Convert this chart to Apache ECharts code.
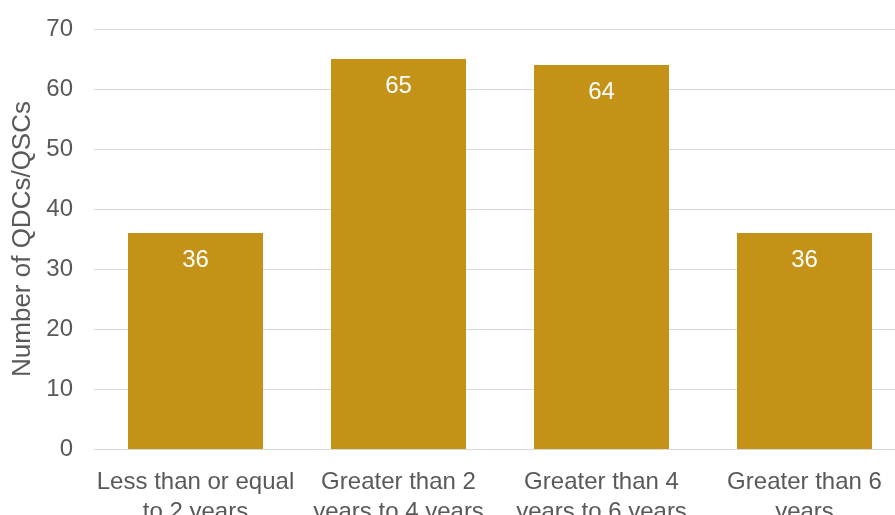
<!DOCTYPE html>
<html>
<head>
<meta charset="utf-8">
<script src="https://cdn.jsdelivr.net/npm/echarts@6/dist/echarts.min.js"></script>
<style>
html,body{margin:0;padding:0;background:#fff;}
#chart{width:895px;height:515px;}
</style>
</head>
<body>
<div id="chart"></div>
<script>
const categories = ["Less than or equal\nto 2 years", "Greater than 2\nyears to 4 years", "Greater than 4\nyears to 6 years", "Greater than 6\nyears"];
const values = [36, 65, 64, 36];
const yTicks = {min: 0, max: 70, interval: 10};
const yAxisName = "Number of QDCs/QSCs";

const FONT = 'Liberation Sans, Arial, sans-serif';
const chart = echarts.init(document.getElementById('chart'), null, {renderer: 'canvas'});
chart.setOption({
  animation: false,
  backgroundColor: '#ffffff',
  grid: {left: 94, width: 812, top: 29, bottom: 66, containLabel: false, outerBoundsMode: 'none'},
  xAxis: {
    type: 'category',
    data: categories,
    axisTick: {show: false},
    axisLine: {show: true, lineStyle: {color: '#d9d9d9', width: 1}},
    axisLabel: {color: '#595959', fontFamily: FONT, fontSize: 24, lineHeight: 30, margin: 18, interval: 0, hideOverlap: false}
  },
  yAxis: {
    type: 'value',
    min: yTicks.min, max: yTicks.max, interval: yTicks.interval,
    name: yAxisName,
    nameLocation: 'middle',
    nameGap: 58,
    nameTextStyle: {color: '#595959', fontFamily: FONT, fontSize: 26},
    axisLine: {show: false},
    axisTick: {show: false},
    splitLine: {lineStyle: {color: '#d9d9d9', width: 1}},
    axisLabel: {color: '#595959', fontFamily: FONT, fontSize: 24, margin: 21}
  },
  series: [{
    type: 'bar',
    data: values,
    barWidth: '66.5%',
    itemStyle: {color: '#c49216'},
    label: {show: true, position: 'insideTop', distance: 15, color: '#ffffff', fontFamily: FONT, fontSize: 24}
  }]
});
</script>
</body>
</html>
